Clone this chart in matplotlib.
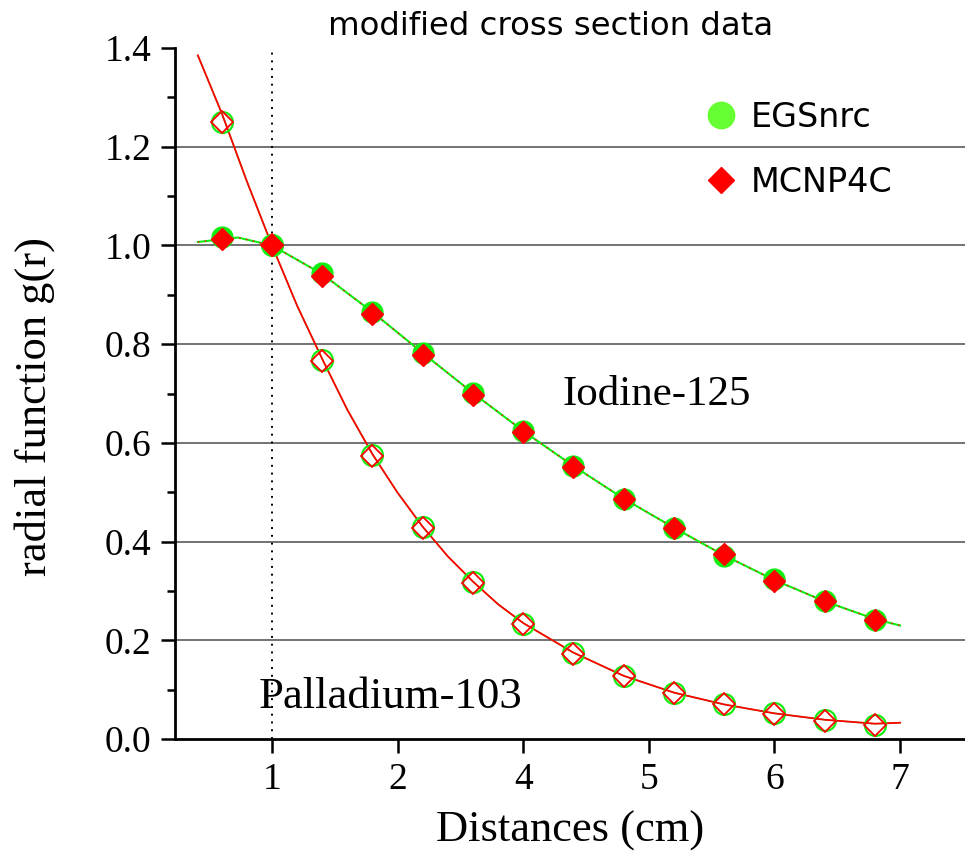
import matplotlib
matplotlib.use("Agg")
import matplotlib.pyplot as plt
from matplotlib.lines import Line2D
from matplotlib.ticker import FixedLocator, MultipleLocator

# ---- data ----
x_pts = [0.6, 1.0, 1.4, 1.8, 2.2, 2.6, 3.0, 3.4, 3.8, 4.2, 4.6, 5.0, 5.4, 5.8]
iod_egs = [1.018, 1.000, 0.944, 0.866, 0.783, 0.702, 0.624, 0.553, 0.486, 0.427, 0.370, 0.324, 0.280, 0.242]
iod_mcnp = [1.014, 1.000, 0.939, 0.861, 0.779, 0.697, 0.621, 0.551, 0.486, 0.427, 0.374, 0.321, 0.279, 0.242]
pd_egs = [1.250, 1.000, 0.768, 0.575, 0.429, 0.318, 0.234, 0.174, 0.128, 0.094, 0.071, 0.053, 0.038, 0.029]
pd_mcnp = [1.250, 1.000, 0.766, 0.573, 0.428, 0.317, 0.233, 0.173, 0.127, 0.093, 0.070, 0.051, 0.037, 0.028]

iod_fit_x = [0.41, 0.73, 1.0, 1.4, 1.8, 2.2, 2.6, 3.0, 3.4, 3.8, 4.2, 4.6, 5.0, 5.4, 5.8, 6.0]
iod_fit_y = [1.007, 1.016, 1.0, 0.942, 0.865, 0.782, 0.701, 0.624, 0.553, 0.487, 0.428, 0.372, 0.322, 0.279, 0.243, 0.230]
pd_fit_x = [0.41, 0.6, 0.8, 1.0, 1.2, 1.4, 1.6, 1.8, 2.0, 2.2, 2.4, 2.6, 2.8, 3.0, 3.4, 3.8, 4.2, 4.6, 5.0, 5.4, 5.8, 6.0]
pd_fit_y = [1.385, 1.268, 1.13, 1.0, 0.878, 0.770, 0.667, 0.577, 0.499, 0.430, 0.370, 0.319, 0.273, 0.235, 0.175, 0.128, 0.094, 0.070, 0.052, 0.039, 0.031, 0.033]

x_tick_pos = [1, 2, 3, 4, 5, 6]
x_tick_labels = ["1", "2", "4", "5", "6", "7"]
y_ticks = [0.0, 0.2, 0.4, 0.6, 0.8, 1.0, 1.2, 1.4]
grid_levels = [0.2, 0.4, 0.6, 0.8, 1.0, 1.2]

GREEN = "#11ee11"
RED = "#ff0000"
SERIF = "Liberation Serif"
SANS = "DejaVu Sans"

fig = plt.figure(figsize=(9.65, 8.51), dpi=100)
ax = fig.add_axes([0.1813, 0.1316, 0.8187, 0.812])
ax.set_xlim(0.2277, 6.517)
ax.set_ylim(0.0, 1.4)

for g in grid_levels:
    ax.axhline(g, color="#5a5a5a", lw=1.2, zorder=1)
ax.axvline(1.0, color="black", lw=1.4, ls=(0, (1, 3)), zorder=1)

# fit curves
ax.plot(pd_fit_x, pd_fit_y, color=GREEN, lw=1.0, zorder=2)
ax.plot(pd_fit_x, pd_fit_y, color=RED, lw=1.3, zorder=2)
ax.plot(iod_fit_x, iod_fit_y, color=GREEN, lw=1.5, zorder=2)
ax.plot(iod_fit_x, iod_fit_y, color=RED, lw=1.0, ls=(0, (1, 4)), zorder=2)

# Iodine points (filled)
ax.plot(x_pts, iod_egs, ls="none", marker="o", ms=15, mfc=GREEN, mec=GREEN, zorder=3)
ax.plot(x_pts, iod_mcnp, ls="none", marker="D", ms=11, mfc=RED, mec=RED, zorder=4)
# Palladium points (open)
ax.plot(x_pts, pd_egs, ls="none", marker="o", ms=15, mfc="none", mec=GREEN, mew=1.6, zorder=3)
ax.plot(x_pts, pd_mcnp, ls="none", marker="D", ms=11, mfc="none", mec=RED, mew=1.3, zorder=4)

# spines / ticks
for s in ["top", "right"]:
    ax.spines[s].set_visible(False)
for s in ["left", "bottom"]:
    ax.spines[s].set_linewidth(2.0)
ax.xaxis.set_major_locator(FixedLocator(x_tick_pos))
ax.set_xticklabels(x_tick_labels)
ax.set_yticks(y_ticks)
ax.set_yticklabels([f"{v:.1f}" for v in y_ticks])
ax.yaxis.set_minor_locator(MultipleLocator(0.1))
ax.tick_params(axis="both", which="major", direction="out", length=10, width=1.8,
               labelsize=27, pad=7)
ax.tick_params(axis="y", which="minor", direction="out", length=6, width=1.8)
for lab in ax.get_xticklabels() + ax.get_yticklabels():
    lab.set_fontfamily(SERIF)

ax.set_xlabel("Distances (cm)", fontsize=32, fontfamily=SERIF, labelpad=10)
ax.set_ylabel("radial function g(r)", fontsize=32, fontfamily=SERIF)
ax.yaxis.set_label_coords(-0.152, 0.481)

fig.text(0.571, 0.9694, "modified cross section data", fontsize=23.3, fontfamily=SANS,
         ha="center", va="center")

ax.text(562, 851 - 405, "Iodine-125", transform=None, fontsize=31, fontfamily=SERIF,
        ha="left", va="baseline")
ax.text(259, 851 - 708, "Palladium-103", transform=None, fontsize=32.2, fontfamily=SERIF,
        ha="left", va="baseline")

handles = [Line2D([], [], ls="none", marker="o", ms=19, mfc="#66ff33", mec="#66ff33"),
           Line2D([], [], ls="none", marker="D", ms=13.5, mfc=RED, mec=RED)]
leg = ax.legend(handles, ["EGSnrc", "MCNP4C"], loc="upper left",
                bbox_to_anchor=(688 / 965, 1 - 84 / 851), bbox_transform=fig.transFigure,
                frameon=False, handlelength=1.0, handletextpad=0.38, labelspacing=0.97,
                prop={"family": SANS, "size": 24}, borderpad=0)

fig.savefig("out.png", dpi=100)
